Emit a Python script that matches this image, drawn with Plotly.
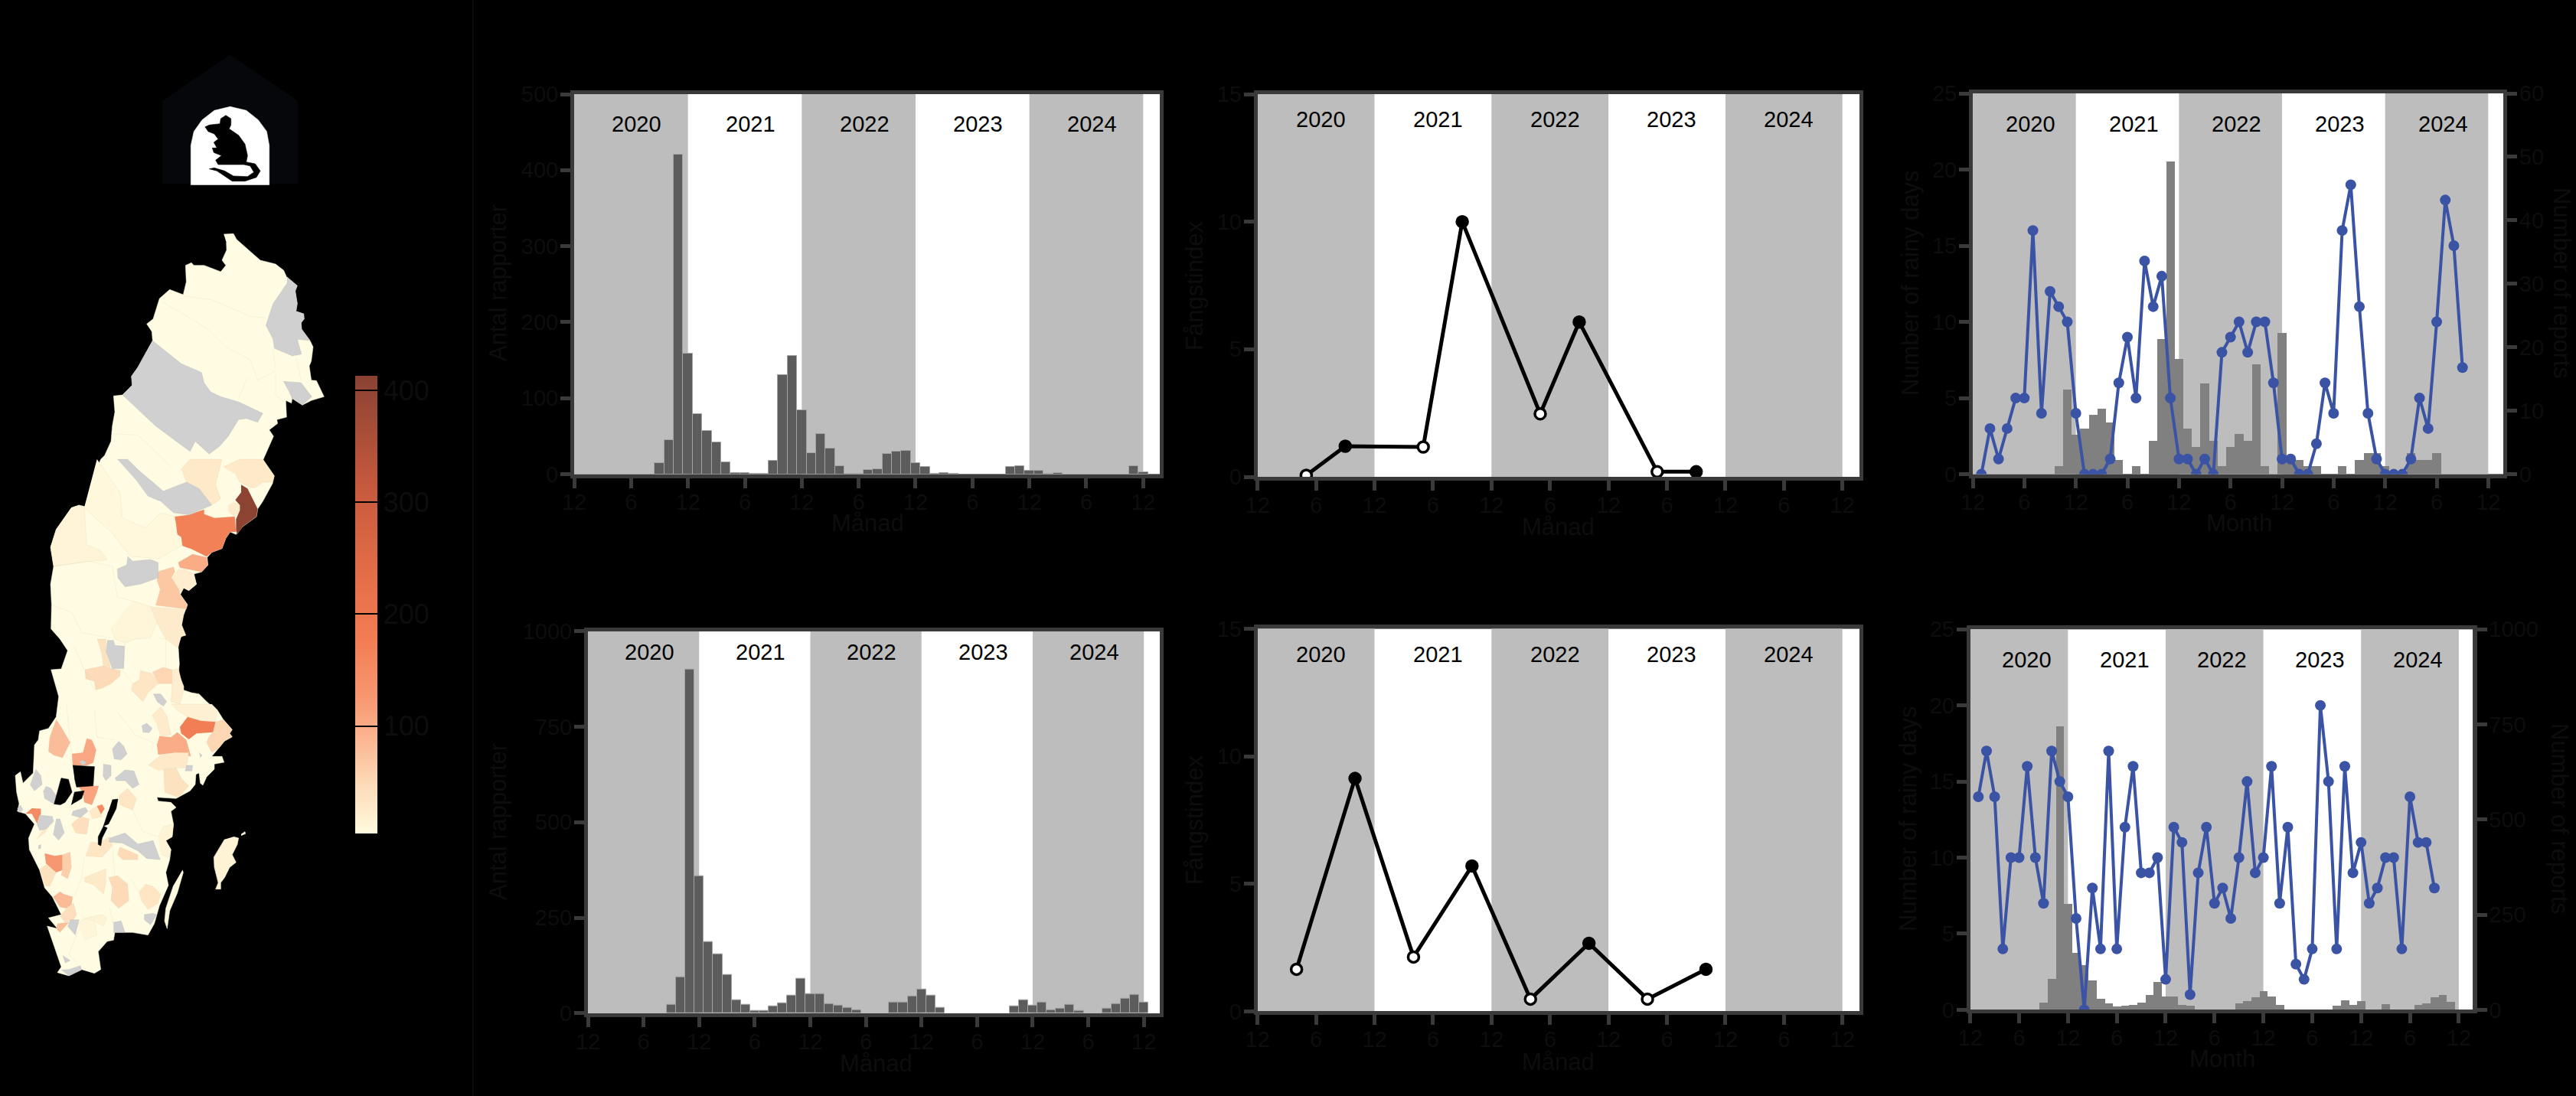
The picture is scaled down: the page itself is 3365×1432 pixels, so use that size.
import plotly.graph_objects as go

W, H = 3365, 1432
BLACKISH = "#0d0d0d"
FRAME = "#3a3a3a"
BAND = "#bebdbe"
BLUE = "#3a53a4"
FONT = "Liberation Sans"
SEAM = "rgba(190,185,150,0.25)"

# ---------- chart data ----------
tick_vals = list(range(0, 61, 6))
tick_text = ["12", "6"] * 5 + ["12"]
years = ["2020", "2021", "2022", "2023", "2024"]
band_starts = [0, 24, 48]

reports_a_t = [9, 10, 11, 12, 13, 14, 15, 16, 17, 18, 19, 20, 21, 22, 23, 24, 25, 26, 27, 28, 29, 30, 31, 32, 33, 34, 35, 36, 37, 38, 39, 40, 46, 47, 48, 49, 50, 51, 59, 60]
reports_a = [15, 45, 420, 159, 79, 57, 42, 16, 2, 2, 1, 1, 18, 130, 156, 84, 28, 53, 34, 11, 1, 1, 6, 7, 27, 30, 31, 15, 10, 1, 2, 1, 10, 11, 5, 5, 1, 2, 11, 3]

reports_b_t = [9, 10, 11, 12, 13, 14, 15, 16, 17, 18, 19, 20, 21, 22, 23, 24, 25, 26, 27, 28, 29, 33, 34, 35, 36, 37, 38, 46, 47, 48, 49, 50, 51, 52, 53, 56, 57, 58, 59, 60]
reports_b = [23, 95, 899, 358, 186, 155, 101, 35, 22, 6, 6, 18, 26, 46, 90, 50, 51, 25, 20, 15, 8, 28, 29, 44, 63, 46, 15, 18, 35, 20, 29, 8, 12, 22, 6, 13, 24, 38, 48, 29]

index_a_t = [5, 9, 17, 21, 29, 33, 41, 45]
index_a = [0.06, 1.2, 1.17, 10.0, 2.47, 6.07, 0.2, 0.2]
index_a_open = [True, False, True, False, True, False, True, False]

index_b_t = [4, 10, 16, 22, 28, 34, 40, 46]
index_b = [1.65, 9.13, 2.13, 5.7, 0.48, 2.67, 0.48, 1.65]
index_b_open = [True, False, True, False, True, False, True, False]

rain_a_t = list(range(1, 58))
rain_a = [0, 3, 1, 3, 5, 5, 16, 4, 12, 11, 10, 4, 0, 0, 0, 1, 6, 9, 5, 14, 11, 13, 5, 1, 1, 0, 1, 0, 8, 9, 10, 8, 10, 10, 6, 1, 1, 0, 0, 2, 6, 4, 16, 19, 11, 4, 1, 0, 0, 0, 1, 5, 3, 10, 18, 15, 7]
rain_bars_a_t = [10, 11, 12, 13, 14, 15, 16, 17, 19, 21, 22, 23, 24, 25, 26, 27, 28, 29, 30, 31, 32, 33, 34, 36, 37, 38, 39, 40, 43, 45, 46, 47, 48, 51, 52, 53, 54]
rain_bars_a = [1.3, 13.3, 6.25, 7.2, 9.3, 10.3, 8.2, 2.3, 1.3, 5.3, 21.3, 49.3, 18.2, 7.2, 4.3, 14.3, 5.3, 1.3, 4.3, 6.3, 5.3, 17.3, 1.3, 22.3, 2.3, 2.3, 1.3, 1.3, 1.3, 2.3, 3.3, 3.3, 1.3, 3.3, 2.3, 2.3, 3.3]

rain_b_t = list(range(1, 58))
rain_b = [14, 17, 14, 4, 10, 10, 16, 10, 7, 17, 15, 14, 6, 0, 8, 4, 17, 4, 12, 16, 9, 9, 10, 2, 12, 11, 1, 9, 12, 7, 8, 6, 10, 15, 9, 10, 16, 7, 12, 3, 2, 4, 20, 15, 4, 16, 9, 11, 7, 8, 10, 10, 4, 14, 11, 11, 8]
rain_bars_b_t = [9, 10, 11, 12, 13, 14, 15, 16, 17, 18, 19, 20, 21, 22, 23, 24, 25, 26, 27, 33, 34, 35, 36, 37, 38, 45, 46, 47, 48, 51, 55, 56, 57, 58, 59]
rain_bars_b = [19, 81, 744, 278, 149, 118, 76, 29, 17, 8, 11, 12, 19, 39, 72, 35, 34, 12, 11, 16, 22, 33, 48, 34, 12, 11, 24, 12, 23, 15, 12, 16, 32, 39, 21]

# ---------- map data: outlines ----------
# each group is tied to the magnified reading it came from: (left, top, magnification)
C8, C9, C10, C11 = (130, 290, 3), (50, 600, 3), (10, 920, 3), (190, 60, 3)

def mp(crop, pts):
    return [crop[0] + p[0] / crop[2] for p in pts], [crop[1] + p[1] / crop[2] for p in pts]

land_pieces = [
    (C8, [(487,48),(525,46),(537,68),(575,100),(605,128),(630,150),(690,165),(722,190),(733,215),(775,250),(767,270),(775,320),(770,350),(800,360),(802,380),(790,395),(792,420),(825,465),(837,490),(830,545),(822,565),(830,620),(850,622),(880,685),(830,700),(795,718),(755,692),(752,710),(730,700),(733,765),(695,775),(698,790),(665,815),(682,840),(668,870),(640,935)]),
    (C9, [(880,0),(925,65),(918,95),(880,165),(860,195),(855,225),(800,265),(775,295),(752,285),(735,310),(720,350),(680,365),(662,385),(665,415),(640,442),(610,450),(620,490),(590,515),(570,505),(557,530),(585,570),(570,610),(562,650),(578,690),(560,695),(548,725),(553,800),(550,840),(570,890),(570,905),(600,915),(630,920),(660,950),(700,985)]),
    (C10, [(820,20),(845,60),(880,100),(870,115),(880,128),(850,145),(830,170),(800,205),(840,205),(848,228),(810,235),(810,255),(780,285),(765,318),(755,310),(750,270),(738,275),(735,315),(715,340),(660,370),(585,365),(590,380),(640,385),(660,405),(640,420),(650,470),(645,520),(620,535),(640,570),(635,610),(620,660),(630,710),(595,790),(575,860),(550,905),(490,895),(420,895),(415,925),(390,930),(355,970),(365,1040),(340,1055),(290,1040),(240,1065),(195,1052),(210,1030),(155,870),(195,880),(160,838),(210,825),(175,755),(145,720),(125,650),(85,570),(82,525),(105,470),(70,430),(38,420),(45,390),(35,345),(30,280),(50,265),(60,310),(100,270),(105,160),(120,140),(125,105),(160,95),(190,50),(195,0)]),
    (C9, [(80,930),(50,825),(90,822),(115,750),(85,705),(50,665),(52,570),(48,490),(60,420),(48,345),(70,275),(130,190),(160,180),(235,198),(255,140),(215,70),(245,0)]),
    (C8, [(20,915),(45,860),(50,800),(60,745),(55,682),(90,678),(128,640),(125,605),(150,570),(180,515),(208,465),(205,430),(185,400),(210,380),(235,300),(275,265),(328,285),(340,235),(337,170),(360,160),(370,170),(410,170),(475,195),(495,170),(480,150),(498,110),(497,80)]),
]
islands = [
    (C10, 6, [(685,650),(688,660),(665,740),(635,810),(625,880),(615,850),(620,800),(650,710)]),
    (C10, 14, [(885,520),(905,525),(900,550),(880,590),(895,620),(870,640),(850,680),(835,700),(835,725),(815,725),(825,700),(810,640),(808,600),(830,565),(850,530)]),
    (C10, 6, [(915,510),(930,500),(932,508),(915,515)]),
]
# reports per municipality
coloured_regions = [
    (C9, 8, [(230,0),(320,130),(330,230),(420,270),(480,210),(535,225),(560,340),(470,390),(360,380),(290,290),(180,190)]),
    (C9, 410, [(795,100),(820,115),(860,195),(855,225),(800,265),(780,295),(775,280),(775,235),(790,200),(790,180),(772,160),(795,130)]),
    (C9, 170, [(535,225),(590,218),(650,197),(650,215),(690,230),(770,225),(775,285),(752,285),(735,310),(720,350),(680,365),(660,382),(600,352),(565,340),(560,305),(545,295),(540,255)]),
    (C9, 100, [(548,405),(605,372),(660,385),(665,415),(640,442),(600,435),(555,425)]),
    (C9, 68, [(470,440),(530,422),(535,440),(522,465),(550,495),(555,530),(585,570),(580,588),(460,572),(478,510),(465,475)]),
    (C9, 22, [(545,435),(575,432),(610,450),(620,490),(590,515),(570,505),(557,520),(522,465)]),
    (C9, 28, [(560,40),(595,0),(720,0),(695,100),(715,155),(680,180),(630,115),(580,90)]),
    (C9, 28, [(725,30),(790,0),(880,0),(925,65),(918,90),(880,90),(850,112),(830,110),(790,90),(775,60)]),
    (C9, 25, [(745,180),(770,170),(787,180),(785,210),(770,225),(745,205)]),
    (C9, 13, [(130,190),(160,180),(180,190),(185,280),(190,335),(240,355),(270,395),(200,400),(60,420),(48,345),(70,275)]),
    (C9, 25, [(440,578),(570,590),(562,650),(578,690),(560,695),(548,740),(500,705),(465,640)]),
    (C9, 10, [(370,555),(440,578),(465,640),(440,700),(380,705),(340,720),(300,705),(285,660)]),
    (C9, 48, [(183,825),(255,810),(285,822),(322,828),(320,850),(285,880),(255,895),(225,905),(220,870),(185,860)]),
    (C9, 38, [(230,705),(265,705),(265,750),(285,822),(255,810),(250,770)]),
    (C9, 32, [(400,828),(445,840),(470,880),(430,915),(410,950),(365,905),(370,880),(395,865)]),
    (C9, 52, [(447,835),(490,815),(525,825),(530,880),(470,880)]),
    (C9, 22, [(525,825),(550,822),(570,905),(555,960),(520,950),(525,880)]),
    (C10, 18, [(640,0),(800,0),(820,20),(815,70),(755,65),(705,50),(660,20)]),
    (C10, 80, [(190,60),(210,90),(245,150),(215,210),(180,200),(160,185),(165,130)]),
    (C10, 105, [(310,135),(330,140),(347,180),(335,230),(310,240),(255,240),(252,195),(295,190)]),
    (C10, 110, [(275,322),(357,320),(350,345),(330,395),(300,385),(295,345)]),
    (C10, 150, [(350,400),(370,393),(380,410),(365,432),(350,425)]),
    (C10, 150, [(70,430),(95,408),(130,410),(130,430),(115,468),(95,430)]),
    (C10, 175, [(675,90),(705,50),(755,65),(815,70),(805,110),(740,115),(710,138),(680,115)]),
    (C10, 100, [(595,125),(640,130),(665,110),(700,140),(718,205),(660,190),(590,198),(585,160)]),
    (C10, 52, [(815,70),(845,60),(880,100),(870,115),(880,128),(850,145),(830,170),(800,190),(780,150),(790,125),(805,110)]),
    (C10, 125, [(145,585),(185,595),(215,590),(215,650),(190,660),(150,625)]),
    (C10, 62, [(215,590),(245,580),(250,640),(235,685),(210,670),(215,650)]),
    (C10, 38, [(125,648),(150,630),(190,660),(175,690),(165,715),(145,710)]),
    (C10, 82, [(205,735),(220,745),(255,755),(250,785),(230,800),(205,795),(178,755)]),
    (C10, 42, [(230,800),(258,780),(270,825),(258,845),(225,855),(205,830)]),
    (C10, 78, [(195,860),(240,855),(205,895),(190,880)]),
    (C10, 48, [(395,680),(430,672),(470,705),(475,770),(435,800),(405,770),(410,720)]),
    (C10, 28, [(300,680),(360,655),(385,645),(385,700),(375,745),(340,710),(300,695)]),
    (C10, 32, [(540,705),(570,715),(600,745),(590,780),(550,805),(525,770),(515,735)]),
    (C10, 48, [(430,590),(440,560),(510,590),(510,610),(450,610)]),
    (C10, 33, [(325,540),(360,545),(400,520),(410,555),(370,600),(305,595)]),
    (C10, 28, [(550,240),(600,200),(660,190),(710,190),(700,250),(680,250),(630,250),(590,260)]),
    (C10, 38, [(610,255),(660,250),(680,290),(710,320),(670,365),(615,345)]),
    (C10, 33, [(435,360),(470,330),(505,370),(490,415),(440,395)]),
    (C10, 42, [(250,470),(285,440),(320,450),(310,510),(265,505)]),
    (C10, 28, [(115,530),(140,490),(162,480),(145,505)]),
    (C10, 25, [(565,45),(600,10),(625,50),(640,120),(600,125),(585,80)]),
    (C10, 14, [(590,520),(610,480),(650,470),(645,520),(620,535),(640,570),(635,600),(600,590)]),
    (C10, 28, [(320,420),(350,400),(370,440),(330,450)]),
    (C10, 14, [(300,840),(370,825),(390,840),(375,870),(340,850)]),
    (C10, 11, [(275,860),(300,840),(340,850),(350,905),(300,925)]),
]
no_data_regions = [
    (C8, [(735,215),(775,250),(767,270),(775,320),(770,350),(800,360),(802,380),(790,395),(792,420),(825,465),(775,460),(792,518),(755,525),(685,495),(680,460),(652,405),(680,320),(735,240)]),
    (C8, [(208,465),(320,555),(400,590),(410,630),(435,665),(475,685),(545,705),(640,750),(620,785),(575,770),(545,775),(505,840),(470,880),(430,910),(375,860),(355,900),(220,800),(90,678),(128,640),(125,605),(150,570),(180,515)]),
    (C8, [(720,625),(790,630),(832,685),(795,718),(755,692),(745,670)]),
    (C9, [(310,0),(350,0),(390,40),(490,125),(580,90),(630,115),(680,180),(590,218),(530,210),(480,165),(430,145),(390,90)]),
    (C9, [(350,380),(370,400),(440,393),(470,405),(470,465),(400,490),(340,500),(312,465),(310,430),(345,415)]),
    (C9, [(270,710),(295,710),(300,730),(338,733),(335,820),(290,822),(265,750)]),
    (C9, [(450,920),(480,920),(503,950),(490,968),(465,950)]),
    (C10, [(525,85),(545,75),(567,95),(555,112),(530,110)]),
    (C10, [(435,145),(455,165),(468,195),(445,218),(418,215),(410,175)]),
    (C10, [(280,225),(295,220),(310,230),(295,240)]),
    (C10, [(375,235),(405,240),(405,280),(385,300),(373,280)]),
    (C10, [(420,290),(460,258),(495,262),(515,315),(490,330),(460,300),(425,300)]),
    (C10, [(110,255),(130,280),(135,315),(105,340),(88,315)]),
    (C10, [(150,322),(170,330),(195,365),(180,390),(145,370),(140,340)]),
    (C10, [(38,410),(50,395),(60,415),(45,425)]),
    (C10, [(255,420),(305,405),(315,420),(285,445),(250,435)]),
    (C10, [(125,435),(175,440),(180,460),(150,490),(125,495),(115,470)]),
    (C10, [(190,450),(205,450),(222,505),(200,533),(178,510)]),
    (C10, [(400,525),(460,505),(510,548),(570,535),(598,610),(545,605),(510,575),(450,545),(395,540)]),
    (C10, [(120,555),(130,550),(130,565),(120,568)]),
    (C10, [(535,825),(570,820),(585,825),(560,865),(535,845)]),
    (C10, [(245,845),(280,845),(265,905),(235,870)]),
    (C10, [(415,855),(445,850),(460,895),(415,895)]),
    (C10, [(210,1042),(240,1040),(285,1025),(290,1042),(240,1065)]),
    (C10, [(215,985),(245,1005),(225,1015)]),
    (C10, [(700,240),(725,240),(722,262),(695,262)]),
    (C10, [(750,190),(762,200),(755,210)]),
]
lakes = [
    (C10, [(182,392),(210,290),(238,295),(252,345),(225,385),(205,395)]),
    (C10, [(250,395),(262,345),(300,340),(290,370),(265,385)]),
    (C10, [(255,240),(340,245),(335,320),(270,325),(262,290)]),
    (C10, [(410,375),(432,372),(425,410),(395,470),(375,478),(390,485),(370,525),(365,555),(355,550),(355,520),(375,480),(395,420)]),
]
border_lines = [
    (C8, [(240,310),(345,370),(430,425),(495,490),(590,540),(620,620),(690,585)]),
    (C8, [(330,290),(440,305),(590,370),(650,375)]),
    (C8, [(580,610),(545,690)]),
    (C8, [(690,595),(690,680),(720,700)]),
    (C8, [(770,530),(790,620)]),
    (C8, [(680,500),(690,580)]),
    (C8, [(50,830),(150,835),(220,900),(280,960)]),
    (C9, [(60,420),(200,400),(290,420),(310,540),(370,555)]),
    (C9, [(50,570),(130,600),(170,680),(280,700)]),
    (C9, [(140,730),(180,825),(220,905)]),
    (C9, [(340,720),(330,830),(370,880)]),
    (C9, [(470,700),(500,705),(500,815)]),
    (C10, [(230,0),(240,100),(250,190)]),
    (C10, [(340,20),(350,130),(420,140)]),
    (C10, [(430,30),(500,120),(590,160)]),
    (C10, [(490,415),(530,500),(590,520)]),
    (C10, [(410,560),(420,680)]),
    (C10, [(300,600),(290,680),(260,760)]),
    (C10, [(480,680),(515,735)]),
    (C10, [(400,800),(420,890)]),
    (C10, [(280,880),(240,980),(290,1040)]),
]
house = [(330,35),(597,215),(597,540),(67,540),(67,215)]
doorway = [(178,545),(178,390),(190,335),(222,290),(270,253),(332,238),(395,253),(442,290),(475,335),(485,390),(485,545)]
mouse = [(233,318),(250,310),(292,305),(295,285),(315,272),(335,285),(335,310),(328,325),(365,350),(390,385),(400,430),(395,455),(430,462),(450,490),(435,515),(390,530),(340,530),(310,510),(280,490),(250,482),(270,478),(310,490),(345,510),(400,512),(425,495),(410,470),(385,465),(285,465),(275,448),(298,430),(268,418),(262,400),(280,400),(268,378),(285,365),(270,345),(245,335)]

colorbar_ticks = [100, 200, 300, 400]
colorbar_min, colorbar_max = 4, 413
stops = [(0, "#fffbe0"), (0.05, "#feebcb"), (0.1, "#fdddbb"), (0.2, "#fbb893"), (0.3, "#f79670"),
         (0.43, "#f27c52"), (0.6, "#de6a46"), (0.75, "#c85a3e"), (1, "#8a4232")]

def rgb(h):
    return [int(h[i:i + 2], 16) for i in (1, 3, 5)]

def shade(v):
    f = max(0, min(1, (v - colorbar_min) / (colorbar_max - colorbar_min)))
    for (a, ca), (b, cb) in zip(stops, stops[1:]):
        if f <= b:
            w = (f - a) / (b - a)
            c = [round(p + (q - p) * w) for p, q in zip(rgb(ca), rgb(cb))]
            return f"rgb({c[0]},{c[1]},{c[2]})"
    return stops[-1][1]

# ---------- figure ----------
fig = go.Figure()

def xdom(a, b): return [a / W, b / W]
def ydom(top, bottom): return [1 - bottom / H, 1 - top / H]

fig.update_layout(
    width=W, height=H, autosize=False, margin=dict(l=0, r=0, t=0, b=0, autoexpand=False),
    paper_bgcolor="black", plot_bgcolor="black", showlegend=False, bargap=0,
    font=dict(family=FONT, color=BLACKISH),
    xaxis=dict(domain=xdom(0, 640), range=[0, 640], visible=False, fixedrange=True),
    yaxis=dict(domain=[0, 1], range=[H, 0], visible=False, fixedrange=True),
    coloraxis=dict(
        cmin=colorbar_min, cmax=colorbar_max, colorscale=[[a, b] for a, b in stops],
        colorbar=dict(
            x=464 / W, xanchor="left", y=1 - 790 / H, yanchor="middle", thickness=29, thicknessmode="pixels",
            len=598, lenmode="pixels", xpad=0, ypad=0, outlinewidth=0, tickvals=colorbar_ticks,
            ticks="inside", ticklen=29, tickwidth=2, tickcolor="black", tickprefix="\u00a0\u00a0",
            tickfont=dict(size=36, color=BLACKISH, family=FONT),
        ),
    ),
    shapes=[dict(type="line", xref="paper", yref="paper", x0=618 / W, x1=618 / W, y0=0, y1=1,
                 line=dict(color="#0c0c0c", width=2))],
)

def poly(crop, pts, color, line=SEAM):
    x, y = mp(crop, pts)
    fig.add_trace(go.Scatter(x=x, y=y, mode="lines", fill="toself", fillcolor=color,
                             line=dict(color=line, width=0.6), hoverinfo="skip", xaxis="x", yaxis="y"))

# house and mouse
poly(C11, house, "#05070a", "#05070a")
poly(C11, doorway, "white", "white")
poly(C11, mouse, "black", "black")

# land
lx, ly = [], []
for crop, pts in land_pieces:
    a, b = mp(crop, pts)
    lx += a
    ly += b
fig.add_trace(go.Scatter(x=lx, y=ly, mode="lines", fill="toself", fillcolor="#fffce3",
                         line=dict(color="#fffce3", width=0.5), hoverinfo="skip", xaxis="x", yaxis="y"))
for crop, v, pts in islands:
    poly(crop, pts, shade(v), shade(v))
for crop, v, pts in coloured_regions:
    poly(crop, pts, shade(v))
for crop, pts in no_data_regions:
    poly(crop, pts, "#d0d0d0", "rgba(170,170,170,0.4)")
for crop, pts in border_lines:
    x, y = mp(crop, pts)
    fig.add_trace(go.Scatter(x=x, y=y, mode="lines", line=dict(color=SEAM, width=0.6),
                             hoverinfo="skip", xaxis="x", yaxis="y"))
for crop, pts in lakes:
    poly(crop, pts, "black", "black")

# values drive the colour bar
vx, vy, vv = [], [], []
for crop, v, pts in coloured_regions:
    a, b = mp(crop, pts)
    vx.append(sum(a) / len(a))
    vy.append(sum(b) / len(b))
    vv.append(v)
fig.add_trace(go.Scatter(x=vx, y=vy, mode="markers", hoverinfo="skip", xaxis="x", yaxis="y",
                         marker=dict(size=1, opacity=0, color=vv, coloraxis="coloraxis")))

axis_common = dict(
    showgrid=False, zeroline=False, showline=True, linewidth=5, linecolor=FRAME,
    ticks="outside", ticklen=13, tickwidth=5, tickcolor=FRAME, fixedrange=True,
    tickfont=dict(size=29, color=BLACKISH, family=FONT),
)

def axis_label(text, px, py, angle=0):
    fig.add_annotation(xref="paper", yref="paper", x=px / W, y=1 - py / H, text=text, showarrow=False,
                       xanchor="center", yanchor="middle", textangle=angle,
                       font=dict(size=31, color=BLACKISH, family=FONT))

def panel(n, left, right, top, bottom, ymax, yticks, label_t, label_y, y2n=None, y2max=None, y2ticks=None):
    xn = f"xaxis{n}"
    yn = f"yaxis{n}"
    xr = f"x{n}"
    yr = f"y{n}"
    fig.layout[xn] = dict(domain=xdom(left, right), range=[0, 61.75], anchor=yr if y2n is None else f"y{y2n}",
                          tickvals=tick_vals, ticktext=tick_text, mirror=True, tickangle=0, ticklabelstandoff=-6,
                          **axis_common)
    yd = dict(domain=ydom(top, bottom), range=[0, ymax], anchor=xr, tickvals=yticks, tickmode="array",
              ticklabelstandoff=-3, **axis_common)
    if y2n is None:
        yd["mirror"] = True
    else:
        yd["overlaying"] = f"y{y2n}"
        fig.layout[f"yaxis{y2n}"] = dict(domain=ydom(top, bottom), range=[0, y2max], anchor=xr, side="right",
                                         tickvals=y2ticks, ticklabelstandoff=-3, **axis_common)
    fig.layout[yn] = yd
    band_ref = f"y{y2n}" if y2n else yr
    fig.add_shape(type="rect", xref=xr, yref=f"{band_ref} domain", x0=0, x1=61.75, y0=0, y1=1,
                  fillcolor="white", line_width=0, layer="below")
    for s in band_starts:
        fig.add_shape(type="rect", xref=xr, yref=f"{band_ref} domain", x0=s, x1=s + 12, y0=0, y1=1,
                      fillcolor=BAND, line_width=0, layer="below")
    for i, yr_text in enumerate(years):
        fig.add_annotation(xref=xr, yref=yr, x=label_t[i], y=label_y, text=yr_text, showarrow=False,
                           font=dict(size=29, color="black", family=FONT))
    return xr, yr

def dark_bars(xr, yr, t, v):
    fig.add_trace(go.Bar(x=t, y=v, width=1, marker=dict(color="#5c5c5c", line=dict(color="#a3a3a3", width=1)),
                         hoverinfo="skip", xaxis=xr, yaxis=yr))

def index_line(xr, yr, t, v, is_open):
    fig.add_trace(go.Scatter(x=t, y=v, mode="lines+markers", line=dict(color="black", width=5),
                             marker=dict(symbol="circle", size=14, color=["white" if o else "black" for o in is_open],
                                         line=dict(color="black", width=3.5)),
                             hoverinfo="skip", xaxis=xr, yaxis=yr))

def rain(xr, yr, y2r, bt, bv, t, v):
    fig.add_trace(go.Bar(x=bt, y=bv, width=1, marker=dict(color="#808080", line_width=0), hoverinfo="skip",
                         xaxis=xr, yaxis=y2r))
    fig.add_trace(go.Scatter(x=t, y=v, mode="lines+markers", line=dict(color=BLUE, width=4),
                             marker=dict(size=14, color=BLUE), hoverinfo="skip", xaxis=xr, yaxis=yr))

xr, yr = panel(2, 750, 1515, 123, 619.6, 500, [0, 100, 200, 300, 400, 500], [6.6, 18.6, 30.6, 42.6, 54.6], 461)
dark_bars(xr, yr, reports_a_t, reports_a)
axis_label("Månad", 1133, 683)
axis_label("Antal rapporter", 650, 370, -90)

xr, yr = panel(3, 1642.7, 2429, 123, 623, 15, [0, 5, 10, 15], [6.5, 18.5, 30.5, 42.5, 54.5], 14)
index_line(xr, yr, index_a_t, index_a, index_a_open)
axis_label("Månad", 2036, 688)
axis_label("Fångstindex", 1560, 374, -90)

xr, yr = panel(4, 2577, 3270, 122, 619.6, 25, [0, 5, 10, 15, 20, 25], [6.74, 18.74, 30.74, 42.74, 54.74], 23,
               y2n=10, y2max=60, y2ticks=[0, 10, 20, 30, 40, 50, 60])
rain(xr, yr, "y10", rain_bars_a_t, rain_bars_a, rain_a_t, rain_a)
axis_label("Month", 2925, 683)
axis_label("Number of rainy days", 2495, 370, -90)
axis_label("Number of reports", 3347, 370, 90)

xr, yr = panel(5, 768, 1515.4, 824.7, 1323.9, 1000, [0, 250, 500, 750, 1000], [6.65, 18.65, 30.65, 42.65, 54.65], 945)
dark_bars(xr, yr, reports_b_t, reports_b)
axis_label("Månad", 1144, 1389)
axis_label("Antal rapporter", 650, 1074, -90)

xr, yr = panel(6, 1642.7, 2429, 821.4, 1321.4, 15, [0, 5, 10, 15], [6.5, 18.5, 30.5, 42.5, 54.5], 14)
index_line(xr, yr, index_b_t, index_b, index_b_open)
axis_label("Månad", 2036, 1387)
axis_label("Fångstindex", 1560, 1072, -90)

xr, yr = panel(7, 2573.7, 3230.5, 822.2, 1319.4, 25, [0, 5, 10, 15, 20, 25], [6.95, 18.95, 30.95, 42.95, 54.95], 23,
               y2n=11, y2max=1000, y2ticks=[0, 250, 500, 750, 1000])
rain(xr, yr, "y11", rain_bars_b_t, rain_bars_b, rain_b_t, rain_b)
axis_label("Month", 2903, 1383)
axis_label("Number of rainy days", 2492, 1070, -90)
axis_label("Number of reports", 3344, 1070, 90)

fig.write_html("out.html", config={"displayModeBar": False},
               post_script="document.body.style.margin='0';document.body.style.background='black';")
